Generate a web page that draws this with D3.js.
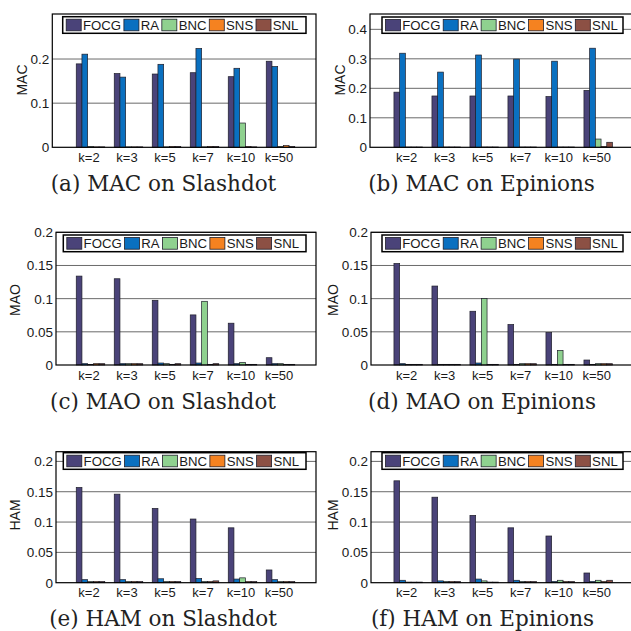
<!DOCTYPE html>
<html>
<head>
<meta charset="utf-8">
<script src="https://cdn.jsdelivr.net/npm/d3@7"></script>
<style>
  html, body { margin: 0; padding: 0; background: #fff; }
  svg { display: block; }
</style>
</head>
<body>
<svg id="chart" width="631" height="631"></svg>
<script>
const categories = ["k=2", "k=3", "k=5", "k=7", "k=10", "k=50"];
const seriesNames = ["FOCG", "RA", "BNC", "SNS", "SNL"];
const seriesColors = ["#4a4379", "#0a70c0", "#8fd18f", "#f58220", "#8c5044"];

// one row per k, columns follow seriesNames
const macSlashdot = [
    [0.189, 0.211, 0.002, 0.001, 0.001],
    [0.167, 0.159, 0.001, 0.001, 0.001],
    [0.166, 0.188, 0.001, 0.002, 0.002],
    [0.169, 0.224, 0.001, 0.002, 0.002],
    [0.160, 0.179, 0.055, 0.002, 0.001],
    [0.195, 0.183, 0.002, 0.004, 0.002]
];
const macEpinions = [
    [0.187, 0.319, 0.001, 0.001, 0.001],
    [0.174, 0.255, 0.001, 0.001, 0.001],
    [0.174, 0.313, 0.001, 0.001, 0.001],
    [0.174, 0.299, 0.001, 0.001, 0.001],
    [0.172, 0.292, 0.001, 0.001, 0.001],
    [0.193, 0.336, 0.028, 0.003, 0.017]
];
const maoSlashdot = [
    [0.134, 0.002, 0.001, 0.002, 0.002],
    [0.130, 0.002, 0.002, 0.002, 0.002],
    [0.0975, 0.003, 0.002, 0.001, 0.002],
    [0.0755, 0.003, 0.096, 0.001, 0.002],
    [0.063, 0.002, 0.004, 0.001, 0.001],
    [0.011, 0.002, 0.002, 0.001, 0.001]
];
const maoEpinions = [
    [0.153, 0.002, 0.001, 0.001, 0.001],
    [0.119, 0.001, 0.001, 0.001, 0.001],
    [0.081, 0.003, 0.100, 0.001, 0.001],
    [0.061, 0.001, 0.002, 0.002, 0.002],
    [0.049, 0.001, 0.022, 0.001, 0.001],
    [0.0075, 0.001, 0.002, 0.002, 0.002]
];
const hamSlashdot = [
    [0.157, 0.005, 0.002, 0.002, 0.002],
    [0.146, 0.005, 0.002, 0.002, 0.002],
    [0.1225, 0.0065, 0.002, 0.002, 0.002],
    [0.105, 0.007, 0.002, 0.002, 0.003],
    [0.0905, 0.006, 0.008, 0.002, 0.002],
    [0.021, 0.005, 0.002, 0.002, 0.002]
];
const hamEpinions = [
    [0.168, 0.004, 0.001, 0.001, 0.001],
    [0.141, 0.003, 0.002, 0.002, 0.002],
    [0.111, 0.006, 0.003, 0.001, 0.001],
    [0.0905, 0.004, 0.002, 0.002, 0.002],
    [0.077, 0.002, 0.004, 0.002, 0.002],
    [0.016, 0.002, 0.004, 0.002, 0.004]
];

const macTicks = [0, 0.1, 0.2];
const macTicksWide = [0, 0.1, 0.2, 0.3, 0.4];
const fineTicks = [0, 0.05, 0.1, 0.15, 0.2];

const panels = [
    {values: macSlashdot, label: "MAC", caption: "(a) MAC on Slashdot", ymax: 0.302, ticks: macTicks,
     left: 52.3, right: 316, top: 14, bottom: 147.3, origin: 52.5,
     legend: [62.7, 16.7, 306, 33.3], labelX: 21.7, labelY: 80, capX: 163.5, capY: 191},
    {values: macEpinions, label: "MAC", caption: "(b) MAC on Epinions", ymax: 0.452, ticks: macTicksWide,
     left: 370, right: 637, top: 14, bottom: 147.3, origin: 370.2,
     legend: [382, 17, 623, 33.3], labelX: 340, labelY: 80, capX: 481.5, capY: 191},
    {values: maoSlashdot, label: "MAO", caption: "(c) MAO on Slashdot", ymax: 0.2, ticks: fineTicks,
     left: 56, right: 316, top: 232.3, bottom: 365, origin: 52.5,
     legend: [63.3, 235, 306, 251.7], labelX: 15, labelY: 300, capX: 163, capY: 408.5},
    {values: maoEpinions, label: "MAO", caption: "(d) MAO on Epinions", ymax: 0.2, ticks: fineTicks,
     left: 371, right: 637, top: 232.3, bottom: 365, origin: 370.2,
     legend: [382, 235, 623, 251.7], labelX: 333.3, labelY: 300, capX: 482, capY: 408.5},
    {values: hamSlashdot, label: "HAM", caption: "(e) HAM on Slashdot", ymax: 0.216, ticks: fineTicks,
     left: 56, right: 316, top: 451.7, bottom: 582.7, origin: 52.5,
     legend: [63.3, 452.7, 306, 469.3], labelX: 14.5, labelY: 515, capX: 163, capY: 625.5},
    {values: hamEpinions, label: "HAM", caption: "(f) HAM on Epinions", ymax: 0.216, ticks: fineTicks,
     left: 371, right: 637, top: 451.7, bottom: 582.7, origin: 370.2,
     legend: [382, 452.7, 623, 469.3], labelX: 333, labelY: 515, capX: 482.5, capY: 625.5}
];

const GROUP_STEP = 38;   // px between group centres
const GROUP_HALF = 0.375; // half group width in x units

const SANS = "Liberation Sans, Arial, sans-serif";

const svg = d3.select("svg#chart");
svg.append("rect").attr("width", 631).attr("height", 631).attr("fill", "#fff");

const tickFmt = v => v === 0 ? "0" : String(+v.toFixed(2));

const drawPanel = (p) => {
    const g = svg.append("g").attr("class", "panel");

    const x = d3.scaleLinear().domain([0, 7]).range([p.origin, p.origin + 7 * GROUP_STEP]);
    const y = d3.scaleLinear().domain([0, p.ymax]).range([p.bottom, p.top]);
    const inner = d3.scaleBand().domain(seriesNames).range([0, x(GROUP_HALF * 2) - x(0)]).padding(0);

    // grid lines
    g.append("g").selectAll("line")
        .data(p.ticks.filter(t => t > 0))
        .enter().append("line")
        .attr("x1", p.left).attr("x2", p.right)
        .attr("y1", t => y(t)).attr("y2", t => y(t))
        .attr("stroke", "#6a6a6a").attr("stroke-width", 1);

    // bars
    const groups = g.append("g").selectAll("g")
        .data(p.values)
        .enter().append("g")
        .attr("transform", (row, i) => `translate(${x(i + 1 - GROUP_HALF)},0)`);

    groups.selectAll("rect")
        .data(row => row.map((v, j) => ({v: v, name: seriesNames[j], color: seriesColors[j]})))
        .enter().append("rect")
        .attr("x", d => inner(d.name))
        .attr("width", inner.bandwidth())
        .attr("y", d => y(d.v))
        .attr("height", d => y(0) - y(d.v))
        .attr("fill", d => d.color)
        .attr("stroke", "#1e1e2a")
        .attr("stroke-width", 0.7);

    // frame
    g.append("rect")
        .attr("x", p.left).attr("y", p.top)
        .attr("width", p.right - p.left).attr("height", p.bottom - p.top)
        .attr("fill", "none").attr("stroke", "#000").attr("stroke-width", 1.2);

    // y tick labels
    g.append("g").selectAll("text")
        .data(p.ticks)
        .enter().append("text")
        .attr("x", p.left - 3)
        .attr("y", t => y(t))
        .attr("dy", "0.36em")
        .attr("text-anchor", "end")
        .attr("font-family", SANS)
        .attr("font-size", 13.5)
        .attr("fill", "#1a1a1a")
        .text(tickFmt);

    // x tick labels
    g.append("g").selectAll("text")
        .data(categories)
        .enter().append("text")
        .attr("x", (c, i) => x(i + 1) - 1.5)
        .attr("y", p.bottom + 14.5)
        .attr("text-anchor", "middle")
        .attr("font-family", SANS)
        .attr("font-size", 13)
        .attr("fill", "#1a1a1a")
        .text(c => c);

    // y label
    g.append("text")
        .attr("transform", `translate(${p.labelX},${p.labelY}) rotate(-90)`)
        .attr("dy", "0.36em")
        .attr("text-anchor", "middle")
        .attr("font-family", SANS)
        .attr("font-size", 14)
        .attr("fill", "#1a1a1a")
        .text(p.label);

    // legend
    const [lx0, ly0, lx1, ly1] = p.legend;
    const leg = g.append("g").attr("class", "legend");
    leg.append("rect")
        .attr("x", lx0).attr("y", ly0)
        .attr("width", lx1 - lx0).attr("height", ly1 - ly0)
        .attr("fill", "#fff").attr("stroke", "#000").attr("stroke-width", 1.5);

    let cursor = lx0 + 3.5;
    seriesNames.forEach((name, j) => {
        leg.append("rect")
            .attr("x", cursor).attr("y", ly0 + 2.5)
            .attr("width", 15).attr("height", ly1 - ly0 - 5)
            .attr("fill", seriesColors[j])
            .attr("stroke", "#1e1e2a").attr("stroke-width", 0.8);
        const t = leg.append("text")
            .attr("x", cursor + 16.8)
            .attr("y", (ly0 + ly1) / 2)
            .attr("dy", "0.36em")
            .attr("font-family", SANS)
            .attr("font-size", 13.2)
            .attr("fill", "#1a1a1a")
            .text(name);
        cursor += 16.8 + t.node().getComputedTextLength() + 2.8;
    });

    // caption
    g.append("text")
        .attr("x", p.capX)
        .attr("y", p.capY)
        .attr("text-anchor", "middle")
        .attr("font-family", "DejaVu Serif, serif")
        .attr("font-size", 21.5)
        .attr("fill", "#222")
        .text(p.caption);
};

panels.forEach(drawPanel);
</script>
</body>
</html>
